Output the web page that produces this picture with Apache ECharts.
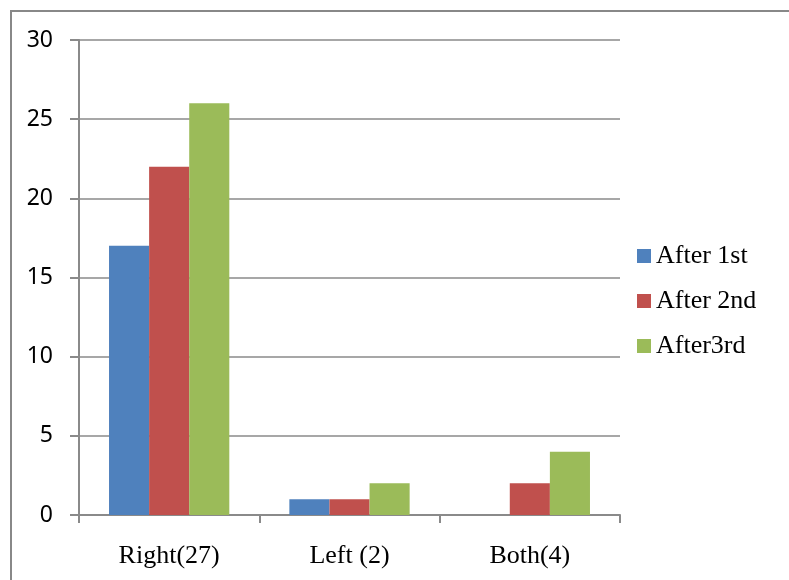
<!DOCTYPE html>
<html>
<head>
<meta charset="utf-8">
<script src="https://cdn.jsdelivr.net/npm/echarts@6/dist/echarts.min.js"></script>
<style>
  html, body { margin: 0; padding: 0; background: #fff; }
  #chart { width: 789px; height: 580px; }
</style>
</head>
<body>
<div id="chart"></div>
<script>
// Category labels along the x axis
const categories = ['Right(27)', 'Left (2)', 'Both(4)'];
// Counts per round
const after1st = [17, 1, 0];
const after2nd = [22, 1, 2];
const after3rd = [26, 2, 4];
const seriesNames = ['After 1st', 'After 2nd', 'After3rd'];
const seriesColors = ['#4F81BD', '#C0504D', '#9BBB59'];

const chart = echarts.init(document.getElementById('chart'), null, { renderer: 'canvas' });

const gridColor = '#8a8a8a';

chart.setOption({
  animation: false,
  backgroundColor: '#fff',
  graphic: [{
    type: 'polyline',
    shape: { points: [[11, 580], [11, 11], [789, 11]] },
    style: { stroke: '#888', lineWidth: 2, fill: null },
    silent: true
  }],
  grid: { left: 79, top: 40, right: 169, bottom: 65, containLabel: false },
  legend: {
    orient: 'vertical',
    left: 632,
    top: 238,
    itemWidth: 14,
    itemHeight: 14,
    itemGap: 19,
    icon: 'rect',
    textStyle: { fontFamily: 'Liberation Serif', fontSize: 26, color: '#000' },
    data: seriesNames
  },
  xAxis: {
    type: 'category',
    data: categories,
    axisLine: { lineStyle: { color: gridColor, width: 2 } },
    axisTick: { show: true, length: 8, alignWithLabel: false, lineStyle: { color: gridColor, width: 2 } },
    axisLabel: { fontFamily: 'Liberation Serif', fontSize: 26, color: '#000', margin: 28 },
    splitLine: { show: false }
  },
  yAxis: {
    type: 'value',
    min: 0,
    max: 30,
    interval: 5,
    axisLine: { show: true, lineStyle: { color: gridColor, width: 2 } },
    axisTick: { show: true, length: 9, lineStyle: { color: gridColor, width: 2 } },
    axisLabel: { fontFamily: 'Noto Sans', fontSize: 23, color: '#000', margin: 26 },
    splitLine: { show: true, lineStyle: { color: gridColor, width: 1.5 } }
  },
  series: [after1st, after2nd, after3rd].map((vals, i) => ({
    name: seriesNames[i],
    type: 'bar',
    data: vals,
    barGap: '0%',
    barCategoryGap: '33.3%',
    itemStyle: { color: seriesColors[i] }
  }))
});
</script>
</body>
</html>
